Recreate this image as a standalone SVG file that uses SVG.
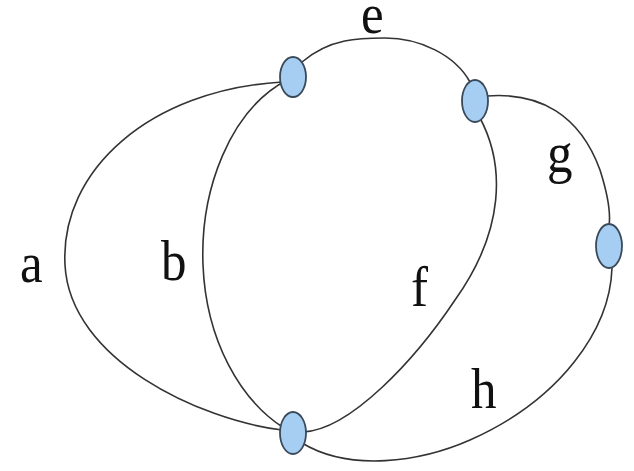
<svg xmlns="http://www.w3.org/2000/svg" width="634" height="471" viewBox="0 0 634 471">
<style>
.edge{fill:none;stroke:#333;stroke-width:1.6}
.node{fill:#a6cdf2;stroke:#3a4a5a;stroke-width:1.8}
.lbl{font-family:"Liberation Serif","Times New Roman",Times,serif;font-size:58px;fill:#111}
</style>
<rect width="634" height="471" fill="#fff"/>
<g id="connectors">
<path class="edge" d="M 282,82 C 150,90 60,170 65,265 C 70,360 200,420 282,430"/>
<path class="edge" d="M 287,80 C 230,110 200,190 203,265 C 206,340 240,400 284,428"/>
<path class="edge" d="M 302,62 C 330,38 360,38 385,38 C 420,38 455,55 470,82"/>
<path class="edge" d="M 480,118 C 505,165 505,230 455,300 C 415,360 350,430 303,432"/>
<path class="edge" d="M 487,96 C 540,92 580,115 600,170 C 608,195 611,212 609,226"/>
<path class="edge" d="M 612,268 C 610,330 560,400 470,440 C 420,462 350,472 302,443"/>
</g>
<g id="n1"><ellipse class="node" cx="293" cy="77" rx="13" ry="20"/></g>
<g id="n2"><ellipse class="node" cx="475" cy="101" rx="13" ry="21"/></g>
<g id="n3"><ellipse class="node" cx="609" cy="246" rx="13" ry="22"/></g>
<g id="n4"><ellipse class="node" cx="293" cy="433" rx="13" ry="21"/></g>
<g id="labels">
<text class="lbl" transform="translate(20,282) scale(0.88,1)">a</text>
<text class="lbl" transform="translate(161,280) scale(0.88,1)">b</text>
<text class="lbl" transform="translate(361,33) scale(0.88,1)">e</text>
<text class="lbl" transform="translate(411,306) scale(0.88,1)">f</text>
<text class="lbl" transform="translate(547,172) scale(0.88,1)">g</text>
<text class="lbl" transform="translate(471,408) scale(0.88,1)">h</text>
</g>
</svg>
